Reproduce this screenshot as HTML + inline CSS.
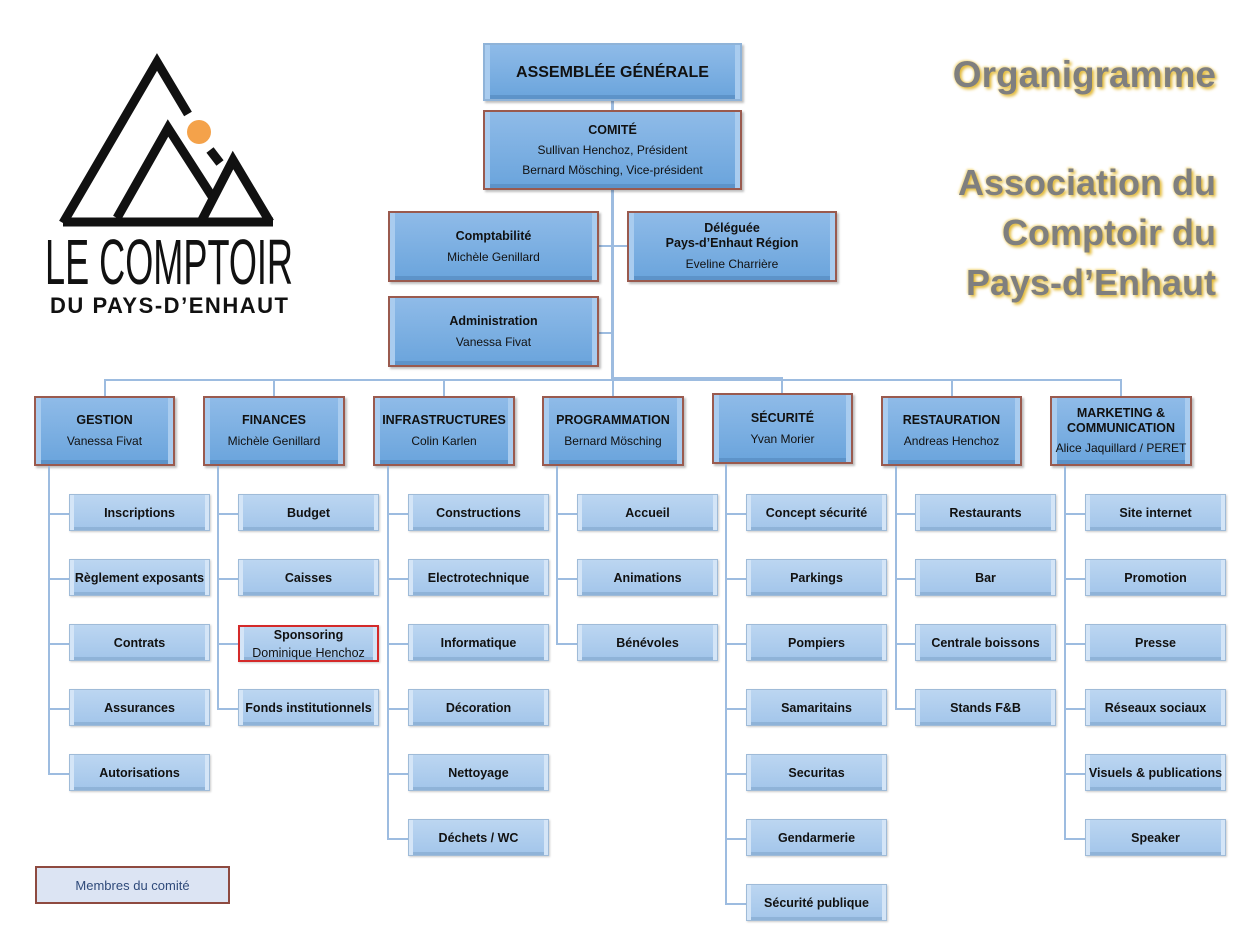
<!DOCTYPE html>
<html><head><meta charset="utf-8">
<style>
body{margin:0;background:#fff;}
#pg{position:relative;width:1258px;height:943px;overflow:hidden;font-family:"Liberation Sans",sans-serif;}
.b,.c{position:absolute;box-sizing:border-box;display:flex;flex-direction:column;justify-content:center;align-items:center;text-align:center;color:#111;}
.b{background:linear-gradient(#8fbbe8,#6aa4dc);border:2px solid #9a5a4e;box-shadow:inset 9px 0 0 -4px #a9ccef,inset -9px 0 0 -4px #a9ccef,inset 0 -4px 0 #5d93c9,2px 2px 2px rgba(0,0,0,.25);font-size:12px;line-height:21px;}
.b b{font-size:12.5px;}
.c{background:linear-gradient(#bcd6f1,#a2c5ea);border:1px solid #9fbbd8;box-shadow:inset 8px 0 0 -4px #d4e5f7,inset -8px 0 0 -4px #d4e5f7,inset 0 -3px 0 #8fb3d8,1px 1px 2px rgba(0,0,0,.2);font-size:12.5px;font-weight:bold;width:141px;height:37px;}
.l{position:absolute;background:#9dbce0;}
.t{position:absolute;right:42px;font-weight:bold;color:#7f7f7f;text-shadow:2px 2px 3px #e0b52c,-1px -1px 2px #f3dc8e;text-align:right;}
</style></head><body><div id="pg">

<svg style="position:absolute;left:0;top:0" width="320" height="330">
<polyline points="63,223 157,62 188,114" fill="none" stroke="#111" stroke-width="9" stroke-linejoin="miter"/>
<line x1="63" y1="222" x2="273" y2="222" stroke="#111" stroke-width="9"/>
<polyline points="117,218 168,128 213,198" fill="none" stroke="#111" stroke-width="9"/>
<polyline points="210,150 220,163" fill="none" stroke="#111" stroke-width="9"/>
<polyline points="202,220 233,160 270,222" fill="none" stroke="#111" stroke-width="9"/>
<circle cx="199" cy="132" r="12" fill="#f4a24a"/>
<text x="45" y="284" textLength="248" lengthAdjust="spacingAndGlyphs" font-family="Liberation Sans Narrow, Liberation Sans, sans-serif" font-size="64" fill="#111">LE COMPTOIR</text>
<text x="50" y="313" textLength="238" lengthAdjust="spacing" font-family="Liberation Sans, sans-serif" font-weight="bold" font-size="22" fill="#111">DU PAYS-D’ENHAUT</text>
</svg>

<div class="t" style="top:54px;font-size:37px;">Organigramme</div>
<div class="t" style="top:158px;font-size:36px;line-height:50px;">Association du<br>Comptoir du<br>Pays-d’Enhaut</div>

<div class="l" style="left:611px;top:101px;width:3px;height:280px"></div>
<div class="l" style="left:599px;top:245px;width:28px;height:2px"></div>
<div class="l" style="left:599px;top:332px;width:13px;height:2px"></div>
<div class="l" style="left:104px;top:379px;width:1017px;height:2px"></div>
<div class="l" style="left:614px;top:377px;width:168px;height:2px"></div>
<div class="l" style="left:781px;top:377px;width:2px;height:17px"></div>
<div class="l" style="left:104px;top:379px;width:2px;height:17px"></div>
<div class="l" style="left:273px;top:379px;width:2px;height:17px"></div>
<div class="l" style="left:443px;top:379px;width:2px;height:17px"></div>
<div class="l" style="left:612px;top:379px;width:2px;height:17px"></div>
<div class="l" style="left:951px;top:379px;width:2px;height:17px"></div>
<div class="l" style="left:1120px;top:379px;width:2px;height:17px"></div>

<div class="b" style="left:483px;top:43px;width:259px;height:58px;border-color:#8fb3d8;"><b style="font-size:16px">ASSEMBLÉE GÉNÉRALE</b></div>
<div class="b" style="left:483px;top:110px;width:259px;height:80px;line-height:20px"><b>COMITÉ</b>Sullivan Henchoz, Président<br>Bernard Mösching, Vice-président</div>
<div class="b" style="left:388px;top:211px;width:211px;height:71px"><b>Comptabilité</b>Michèle Genillard</div>
<div class="b" style="left:627px;top:211px;width:210px;height:71px;line-height:15px"><b>Déléguée<br>Pays-d’Enhaut Région</b><span style="margin-top:6px">Eveline Charrière</span></div>
<div class="b" style="left:388px;top:296px;width:211px;height:71px"><b>Administration</b>Vanessa Fivat</div>

<div class="b" style="left:34px;top:396px;width:141px;height:70px"><b>GESTION</b>Vanessa Fivat</div>
<div class="b" style="left:203px;top:396px;width:142px;height:70px"><b>FINANCES</b>Michèle Genillard</div>
<div class="b" style="left:373px;top:396px;width:142px;height:70px"><b>INFRASTRUCTURES</b>Colin Karlen</div>
<div class="b" style="left:542px;top:396px;width:142px;height:70px"><b>PROGRAMMATION</b>Bernard Mösching</div>
<div class="b" style="left:712px;top:393px;width:141px;height:71px"><b>SÉCURITÉ</b>Yvan Morier</div>
<div class="b" style="left:881px;top:396px;width:141px;height:70px"><b>RESTAURATION</b>Andreas Henchoz</div>
<div class="b" style="left:1050px;top:396px;width:142px;height:70px;line-height:15px"><b>MARKETING &amp;<br>COMMUNICATION</b><span style="margin-top:5px">Alice Jaquillard / PERET</span></div>

<div class="l" style="left:48px;top:466px;width:2px;height:308px"></div>
<div class="l" style="left:48px;top:513px;width:22px;height:2px"></div><div class="c" style="left:69px;top:494px">Inscriptions</div>
<div class="l" style="left:48px;top:578px;width:22px;height:2px"></div><div class="c" style="left:69px;top:559px">Règlement exposants</div>
<div class="l" style="left:48px;top:643px;width:22px;height:2px"></div><div class="c" style="left:69px;top:624px">Contrats</div>
<div class="l" style="left:48px;top:708px;width:22px;height:2px"></div><div class="c" style="left:69px;top:689px">Assurances</div>
<div class="l" style="left:48px;top:773px;width:22px;height:2px"></div><div class="c" style="left:69px;top:754px">Autorisations</div>
<div class="l" style="left:217px;top:466px;width:2px;height:243px"></div>
<div class="l" style="left:217px;top:513px;width:22px;height:2px"></div><div class="c" style="left:238px;top:494px">Budget</div>
<div class="l" style="left:217px;top:578px;width:22px;height:2px"></div><div class="c" style="left:238px;top:559px">Caisses</div>
<div class="l" style="left:217px;top:643px;width:22px;height:2px"></div><div class="c" style="left:238px;top:625px;border:2px solid #d42a2a;font-weight:normal;line-height:18px"><b>Sponsoring</b>Dominique Henchoz</div>
<div class="l" style="left:217px;top:708px;width:22px;height:2px"></div><div class="c" style="left:238px;top:689px">Fonds institutionnels</div>
<div class="l" style="left:387px;top:466px;width:2px;height:373px"></div>
<div class="l" style="left:387px;top:513px;width:22px;height:2px"></div><div class="c" style="left:408px;top:494px">Constructions</div>
<div class="l" style="left:387px;top:578px;width:22px;height:2px"></div><div class="c" style="left:408px;top:559px">Electrotechnique</div>
<div class="l" style="left:387px;top:643px;width:22px;height:2px"></div><div class="c" style="left:408px;top:624px">Informatique</div>
<div class="l" style="left:387px;top:708px;width:22px;height:2px"></div><div class="c" style="left:408px;top:689px">Décoration</div>
<div class="l" style="left:387px;top:773px;width:22px;height:2px"></div><div class="c" style="left:408px;top:754px">Nettoyage</div>
<div class="l" style="left:387px;top:838px;width:22px;height:2px"></div><div class="c" style="left:408px;top:819px">Déchets / WC</div>
<div class="l" style="left:556px;top:466px;width:2px;height:178px"></div>
<div class="l" style="left:556px;top:513px;width:22px;height:2px"></div><div class="c" style="left:577px;top:494px">Accueil</div>
<div class="l" style="left:556px;top:578px;width:22px;height:2px"></div><div class="c" style="left:577px;top:559px">Animations</div>
<div class="l" style="left:556px;top:643px;width:22px;height:2px"></div><div class="c" style="left:577px;top:624px">Bénévoles</div>
<div class="l" style="left:725px;top:464px;width:2px;height:440px"></div>
<div class="l" style="left:725px;top:513px;width:22px;height:2px"></div><div class="c" style="left:746px;top:494px">Concept sécurité</div>
<div class="l" style="left:725px;top:578px;width:22px;height:2px"></div><div class="c" style="left:746px;top:559px">Parkings</div>
<div class="l" style="left:725px;top:643px;width:22px;height:2px"></div><div class="c" style="left:746px;top:624px">Pompiers</div>
<div class="l" style="left:725px;top:708px;width:22px;height:2px"></div><div class="c" style="left:746px;top:689px">Samaritains</div>
<div class="l" style="left:725px;top:773px;width:22px;height:2px"></div><div class="c" style="left:746px;top:754px">Securitas</div>
<div class="l" style="left:725px;top:838px;width:22px;height:2px"></div><div class="c" style="left:746px;top:819px">Gendarmerie</div>
<div class="l" style="left:725px;top:903px;width:22px;height:2px"></div><div class="c" style="left:746px;top:884px">Sécurité publique</div>
<div class="l" style="left:895px;top:466px;width:2px;height:243px"></div>
<div class="l" style="left:895px;top:513px;width:22px;height:2px"></div><div class="c" style="left:915px;top:494px">Restaurants</div>
<div class="l" style="left:895px;top:578px;width:22px;height:2px"></div><div class="c" style="left:915px;top:559px">Bar</div>
<div class="l" style="left:895px;top:643px;width:22px;height:2px"></div><div class="c" style="left:915px;top:624px">Centrale boissons</div>
<div class="l" style="left:895px;top:708px;width:22px;height:2px"></div><div class="c" style="left:915px;top:689px">Stands F&amp;B</div>
<div class="l" style="left:1064px;top:466px;width:2px;height:373px"></div>
<div class="l" style="left:1064px;top:513px;width:22px;height:2px"></div><div class="c" style="left:1085px;top:494px">Site internet</div>
<div class="l" style="left:1064px;top:578px;width:22px;height:2px"></div><div class="c" style="left:1085px;top:559px">Promotion</div>
<div class="l" style="left:1064px;top:643px;width:22px;height:2px"></div><div class="c" style="left:1085px;top:624px">Presse</div>
<div class="l" style="left:1064px;top:708px;width:22px;height:2px"></div><div class="c" style="left:1085px;top:689px">Réseaux sociaux</div>
<div class="l" style="left:1064px;top:773px;width:22px;height:2px"></div><div class="c" style="left:1085px;top:754px">Visuels &amp; publications</div>
<div class="l" style="left:1064px;top:838px;width:22px;height:2px"></div><div class="c" style="left:1085px;top:819px">Speaker</div>

<div style="position:absolute;left:35px;top:866px;width:195px;height:38px;box-sizing:border-box;border:2px solid #8e4a40;background:#dce4f3;color:#2f4a7a;font-size:13px;display:flex;align-items:center;justify-content:center;">Membres du comité</div>
</div></body></html>
